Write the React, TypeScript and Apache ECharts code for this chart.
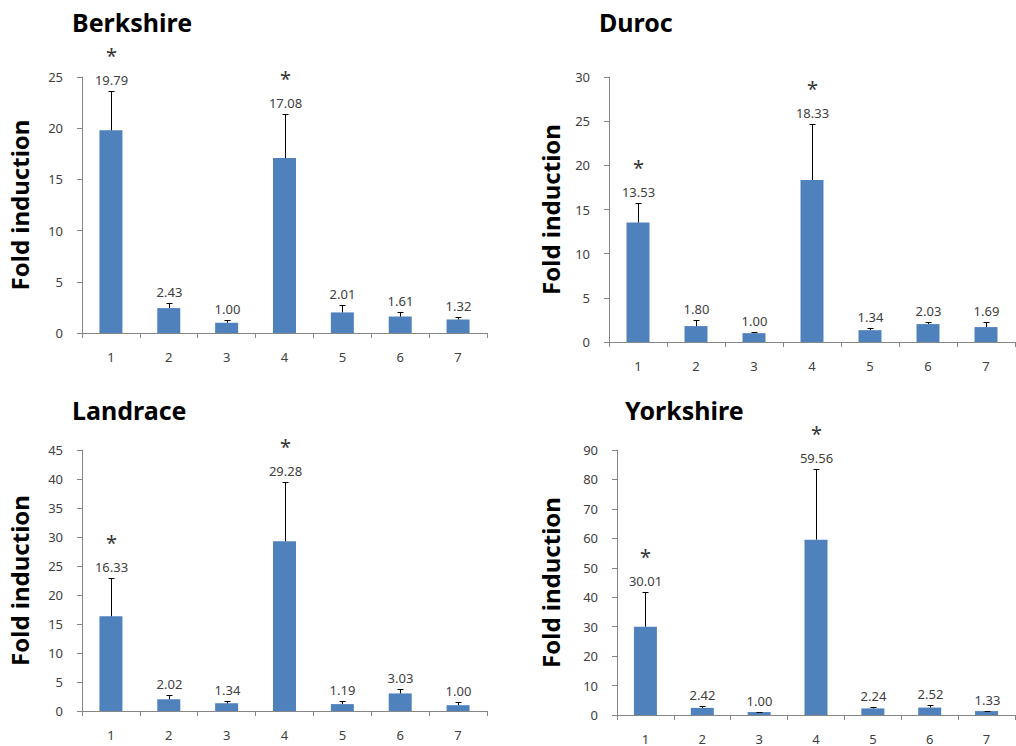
import React, { useEffect, useRef } from "react";
import * as echarts from "echarts";

const categories = ["1", "2", "3", "4", "5", "6", "7"];

const berkshireValues = [19.79, 2.43, 1.0, 17.08, 2.01, 1.61, 1.32];
const berkshireErrTops = [23.6, 2.97, 1.3, 21.4, 2.77, 2.09, 1.56];
const berkshireStars = [1, 0, 0, 1, 0, 0, 0];

const durocValues = [13.53, 1.8, 1.0, 18.33, 1.34, 2.03, 1.69];
const durocErrTops = [15.74, 2.53, 1.13, 24.7, 1.63, 2.26, 2.26];
const durocStars = [1, 0, 0, 1, 0, 0, 0];

const landraceValues = [16.33, 2.02, 1.34, 29.28, 1.19, 3.03, 1.0];
const landraceErrTops = [22.97, 2.83, 1.73, 39.4, 1.73, 3.87, 1.55];
const landraceStars = [1, 0, 0, 1, 0, 0, 0];

const yorkshireValues = [30.01, 2.42, 1.0, 59.56, 2.24, 2.52, 1.33];
const yorkshireErrTops = [41.7, 3.06, 1.13, 83.4, 2.6, 3.4, 1.47];
const yorkshireStars = [1, 0, 0, 1, 0, 0, 0];

const panelTitles = ["Berkshire", "Duroc", "Landrace", "Yorkshire"];
const yMaxes = [25, 30, 45, 90];
const yIntervals = [5, 5, 5, 10];

const FONT = "'Noto Sans', 'Open Sans', sans-serif";
const BAR = "#4F81BD";
const AXIS = "#868686";
const LABEL = "#404040";

export default function App() {
  const ref = useRef<HTMLDivElement>(null);
  useEffect(() => {
    if (!ref.current) return;
    const chart = echarts.init(ref.current, null, { renderer: "svg" });

    const panels = [
      { values: berkshireValues, errs: berkshireErrTops, stars: berkshireStars },
      { values: durocValues, errs: durocErrTops, stars: durocStars },
      { values: landraceValues, errs: landraceErrTops, stars: landraceStars },
      { values: yorkshireValues, errs: yorkshireErrTops, stars: yorkshireStars },
    ];

    const grids = [
      { left: 82, top: 77, width: 405, height: 256 },
      { left: 609, top: 77, width: 406, height: 265 },
      { left: 82, top: 450, width: 405, height: 261 },
      { left: 617, top: 450, width: 398, height: 265 },
    ];
    const titlePos = [
      { left: 72, top: 9 },
      { left: 599, top: 9 },
      { left: 72, top: 397 },
      { left: 625, top: 397 },
    ];
    const nameGaps = [51, 47, 51, 55];

    const renderItem = (params: any, api: any) => {
      const i = api.value(0);
      const v = api.value(1);
      const e = api.value(2);
      const star = api.value(3);
      const base = api.coord([i, v]);
      const top = api.coord([i, e]);
      const x = Math.round(base[0]) + 0.5;
      const ty = Math.round(top[1]) + 0.5;
      const children: any[] = [
        {
          type: "line",
          shape: { x1: x, y1: base[1], x2: x, y2: ty },
          style: { stroke: "#000", lineWidth: 1 },
        },
        {
          type: "line",
          shape: { x1: x - 3, y1: ty, x2: x + 3, y2: ty },
          style: { stroke: "#000", lineWidth: 1 },
        },
        {
          type: "text",
          x: x,
          y: ty - 12,
          style: {
            text: Number(v).toFixed(2),
            fill: LABEL,
            font: `13px ${FONT}`,
            align: "center",
            verticalAlign: "middle",
          },
        },
      ];
      if (star) {
        children.push({
          type: "text",
          x: x,
          y: ty - 36,
          style: {
            text: "*",
            fill: "#333",
            font: `20px ${FONT}`,
            align: "center",
            verticalAlign: "middle",
          },
        });
      }
      return { type: "group", children };
    };

    const series: any[] = [];
    panels.forEach((p, k) => {
      series.push({
        type: "bar",
        xAxisIndex: k,
        yAxisIndex: k,
        data: p.values,
        barWidth: 23,
        itemStyle: { color: BAR },
        silent: true,
      });
      series.push({
        type: "custom",
        xAxisIndex: k,
        yAxisIndex: k,
        clip: false,
        silent: true,
        renderItem,
        data: p.values.map((v, i) => [i, v, p.errs[i], p.stars[i]]),
        z: 5,
      });
    });

    chart.setOption({
      animation: false,
      backgroundColor: "#fff",
      title: panelTitles.map((t, k) => ({
        text: t,
        left: titlePos[k].left,
        top: titlePos[k].top,
        padding: 0,
        textStyle: { fontFamily: FONT, fontWeight: "bold", fontSize: 25, color: "#000" },
      })),
      grid: grids,
      xAxis: grids.map((_, k) => ({
        type: "category",
        gridIndex: k,
        data: categories,
        boundaryGap: true,
        axisLine: { lineStyle: { color: AXIS, width: 1 } },
        axisTick: { show: true, length: 5, lineStyle: { color: AXIS } },
        axisLabel: { color: LABEL, fontFamily: FONT, fontSize: 13, margin: 17 },
      })),
      yAxis: grids.map((_, k) => ({
        type: "value",
        gridIndex: k,
        min: 0,
        max: yMaxes[k],
        interval: yIntervals[k],
        name: "Fold induction",
        nameLocation: "middle",
        nameRotate: 90,
        nameGap: nameGaps[k],
        nameTextStyle: { fontFamily: FONT, fontWeight: "bold", fontSize: 24, color: "#000" },
        axisLine: { show: true, lineStyle: { color: AXIS, width: 1 } },
        axisTick: { show: true, length: 5, lineStyle: { color: AXIS } },
        splitLine: { show: false },
        axisLabel: { color: LABEL, fontFamily: FONT, fontSize: 13, margin: 19 },
      })),
      series,
    });
    return () => chart.dispose();
  }, []);
  return (
    <div
      ref={ref}
      style={{ position: "fixed", left: 0, top: 0, width: 1016, height: 746, background: "#fff" }}
    />
  );
}
